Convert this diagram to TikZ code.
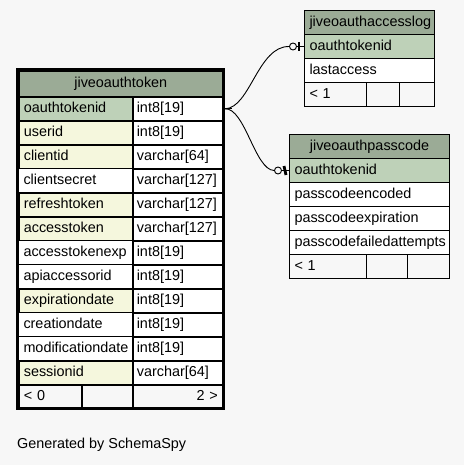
\documentclass[tikz,border=0pt]{standalone}
\usepackage{fontspec}
\setmainfont{Liberation Sans}
\definecolor{bgc}{HTML}{F7F7F7}
\definecolor{headc}{HTML}{9BAB96}
\definecolor{pkc}{HTML}{BED1B8}
\definecolor{idxc}{HTML}{F5F7DD}
\begin{document}
\begin{tikzpicture}[x=1pt,y=-1pt,
  every node/.style={font=\fontsize{14.4}{16}\selectfont},
  cell/.style={draw=black, line width=1pt, anchor=north west, minimum height=24pt,
    inner xsep=5pt, inner ysep=0pt, text height=10.5pt, text depth=3pt, align=left, fill=white},
  mcell/.style={cell, line width=1.6pt},
  hcell/.style={align=center, fill=headc},
  pcell/.style={fill=pkc},
  icell/.style={fill=idxc},
  fcell/.style={fill=bgc},
  conn/.style={draw=black, line width=0.9pt},
  bar/.style={draw=black, line width=2.8pt}]
\fill[bgc] (0,0) rectangle (464,465);
\useasboundingbox (0,0) rectangle (464,465);

% ---------- main table jiveoauthtoken ----------
\node[mcell,hcell,text width=194pt,minimum height=26pt] (mh) at (18,70) {jiveoauthtoken};
\foreach \n/\t/\s [count=\i from 0] in {
  oauthtokenid/int8[19]/pcell,
  userid/int8[19]/icell,
  clientid/varchar[64]/icell,
  clientsecret/varchar[127]/cell,
  refreshtoken/varchar[127]/icell,
  accesstoken/varchar[127]/icell,
  accesstokenexp/int8[19]/cell,
  apiaccessorid/int8[19]/cell,
  expirationdate/int8[19]/icell,
  creationdate/int8[19]/cell,
  modificationdate/int8[19]/cell,
  sessionid/varchar[64]/icell}{
  \node[mcell,\s,text width=104pt,inner xsep=5pt] (mn\i) at (18,96+24*\i) {\n};
  \node[mcell,text width=82pt,inner xsep=4pt] (mt\i) at (132,96+24*\i) {\t};
}
\node[mcell,fcell,text width=53pt] (mf1) at (18,384) {< 0};
\node[mcell,fcell,text width=41pt] (mf2) at (81,384) {};
\node[mcell,fcell,text width=80pt,align=right] (mf3) at (132,384) {2 >};
\draw[line width=3pt] (17,69.5) rectangle (223,408.5);

% ---------- jiveoauthaccesslog ----------
\node[cell,hcell,text width=120pt] (ah) at (304,10) {jiveoauthaccesslog};
\node[cell,pcell,text width=120pt] (apk) at (304,34) {oauthtokenid};
\node[cell,text width=120pt] (a1) at (304,58) {lastaccess};
\node[cell,fcell,text width=52pt] (af1) at (304,82) {< 1};
\node[cell,fcell,text width=23pt] (af2) at (366,82) {};
\node[cell,fcell,text width=25pt] (af3) at (399,82) {};

% ---------- jiveoauthpasscode ----------
\node[cell,hcell,text width=150pt] (ph) at (289,134) {jiveoauthpasscode};
\node[cell,pcell,text width=150pt] (ppk) at (289,158) {oauthtokenid};
\node[cell,text width=150pt] (p1) at (289,182) {passcodeencoded};
\node[cell,text width=150pt] (p2) at (289,206) {passcodeexpiration};
\node[cell,text width=150pt] (p3) at (289,230) {passcodefailedattempts};
\node[cell,fcell,text width=67pt] (pf1) at (289,254) {< 1};
\node[cell,fcell,text width=31pt] (pf2) at (366,254) {};
\node[cell,fcell,text width=32pt] (pf3) at (407,254) {};

% ---------- connectors ----------
\coordinate (cf) at ([xshift=1.5pt]mt0.east);
\coordinate (cfs) at ([xshift=8pt]mt0.east);
\node[circle,draw=black,line width=0.9pt,minimum size=7pt,inner sep=0pt] (ac) at ([xshift=-11pt]apk.west) {};
\node[circle,draw=black,line width=0.9pt,minimum size=7pt,inner sep=0pt] (pc) at ([xshift=-11pt]ppk.west) {};
\draw[conn] (cf) -- (cfs);
\draw[conn] (cf) .. controls (250,108) and (258,46) .. (ac.west);
\draw[conn] (cf) .. controls (245,108) and (255,170) .. (pc.west);
\draw[conn] (ac.east) -- (apk.west);
\draw[conn] (pc.east) -- (ppk.west);
\coordinate (ab1) at ([xshift=-5pt,yshift=-4.5pt]apk.west);
\coordinate (ab2) at ([xshift=-5pt,yshift=4pt]apk.west);
\draw[bar] (ab1) -- (ab2);
\coordinate (pb1) at ([xshift=-3pt,yshift=-4.5pt]ppk.west);
\coordinate (pb2) at ([xshift=-5pt,yshift=4.5pt]ppk.west);
\draw[bar] (pb1) -- (pb2);

% ---------- footer text ----------
\node[anchor=base west,inner sep=0pt] (gen) at (17,448.5) {Generated by SchemaSpy};
\end{tikzpicture}
\end{document}
